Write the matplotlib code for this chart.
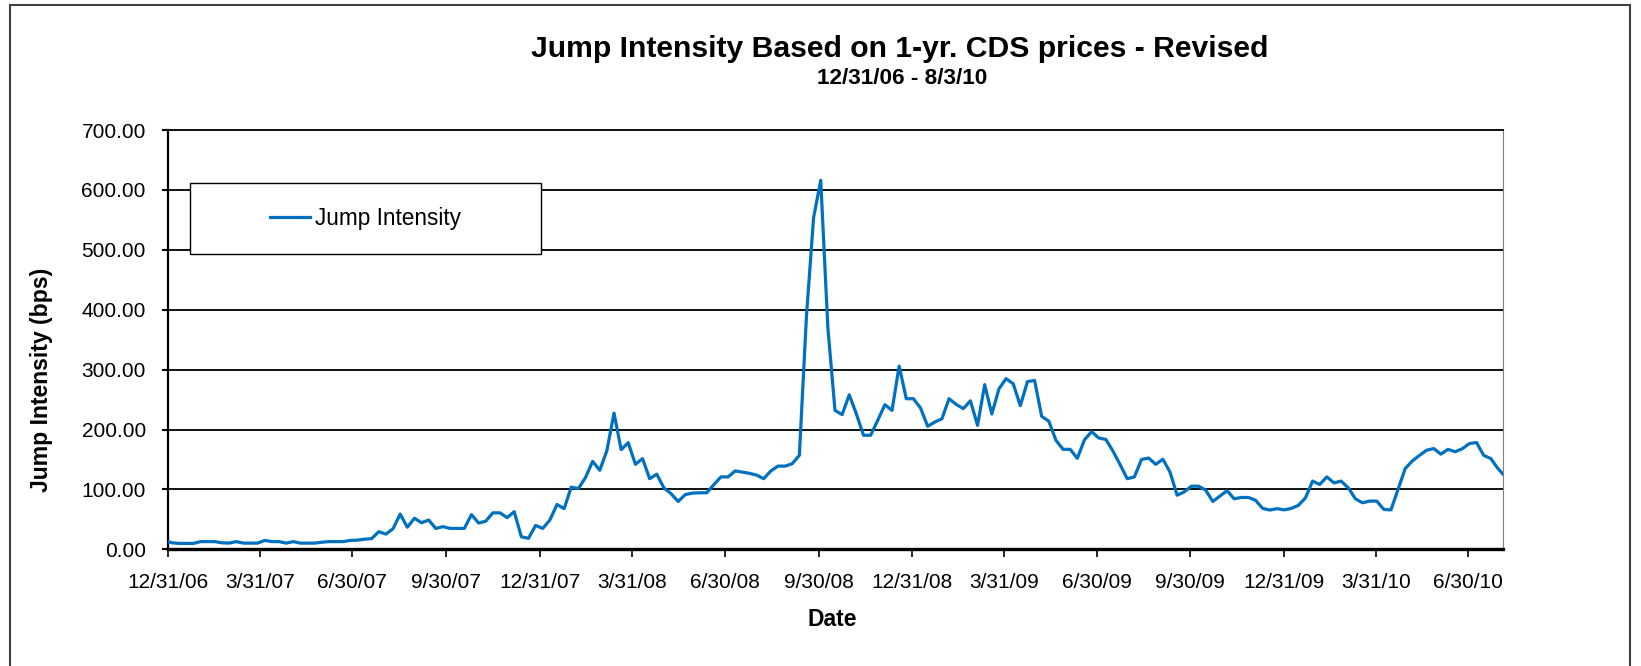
import matplotlib
matplotlib.use("Agg")
import matplotlib.pyplot as plt
from matplotlib.patches import Rectangle
from matplotlib.ticker import FormatStrFormatter
import pandas as pd

plt.rcParams["font.family"] = ["Liberation Sans", "DejaVu Sans"]

# series runs from the year-end close, then weekly Thursday fixes, then the last close
first_date = "2006-12-31"
weekly_start = "2007-01-04"
weekly_end = "2010-07-29"
last_date = "2010-08-03"

jump_intensity = [
    13,
    11, 10, 10, 10, 13, 13, 13, 11, 10.5, 13,
    10.5, 10.5, 10.5, 15, 13, 13, 10.5, 13, 10.5, 10.5,
    10.5, 12, 13, 13, 13, 15, 15.5, 17, 18, 29.5,
    25.5, 34.5, 59, 37, 52, 44.5, 49, 35, 38, 35,
    35, 35, 58, 44, 47, 61, 61, 53, 63, 21,
    18.5, 40, 35, 49, 75, 68, 104, 101.5, 120, 147,
    132, 165, 227.5, 166.5, 178, 142, 151.5, 118, 125.5, 102.5,
    93, 80, 91.5, 94, 94.5, 94.5, 108, 121, 121, 131,
    129, 127, 124, 118, 131, 139, 139, 143, 157, 390,
    554, 616, 370, 232, 225, 258, 226, 190.5, 190.5, 215.5,
    241.5, 232, 306, 251.5, 251.5, 236, 205.5, 212.5, 218, 251.5,
    242, 235, 248, 207, 275, 226, 268, 285, 276.5, 240,
    280, 282, 222, 214, 182, 167, 167, 152, 183, 196.5,
    186, 183.5, 164, 141.5, 118, 121, 150, 152.5, 142, 150.5,
    129, 90.5, 96, 105.5, 105.5, 99, 80, 89, 98, 84.5,
    86.7, 86.7, 82, 68.4, 65.7, 68, 66, 68.4, 73.4, 86,
    114, 108.4, 121, 111, 114, 103, 84.5, 77.8, 80.6, 80.6,
    66.7, 66, 100.5, 135, 147.6, 157, 165.5, 168.3, 159, 167,
    163, 168, 176.6, 178.4, 157, 151.6, 135,
    125.6,
]

tick_dates = [
    "2006-12-31", "2007-03-31", "2007-06-30", "2007-09-30", "2007-12-31",
    "2008-03-31", "2008-06-30", "2008-09-30", "2008-12-31", "2009-03-31",
    "2009-06-30", "2009-09-30", "2009-12-31", "2010-03-31", "2010-06-30",
]
tick_labels = [
    "12/31/06", "3/31/07", "6/30/07", "9/30/07", "12/31/07",
    "3/31/08", "6/30/08", "9/30/08", "12/31/08", "3/31/09",
    "6/30/09", "9/30/09", "12/31/09", "3/31/10", "6/30/10",
]
y_ticks = [0, 100, 200, 300, 400, 500, 600, 700]

dates = (
    pd.DatetimeIndex([first_date])
    .append(pd.date_range(weekly_start, weekly_end, freq="7D"))
    .append(pd.DatetimeIndex([last_date]))
)

W, H = 1641, 666
fig = plt.figure(figsize=(W / 100, H / 100), dpi=100)
fig.patch.set_facecolor("white")

# plot area in pixels: x 168..1503, y 130..549
ax = fig.add_axes([168 / W, 1 - 549.4 / H, (1503 - 168) / W, (549.4 - 130) / H])

ax.plot(dates, jump_intensity, color="#0070C0", lw=2.3, label="Jump Intensity", zorder=5)

ax.set_xlim(pd.Timestamp(first_date), pd.Timestamp(last_date))
ax.set_ylim(0, 700)
ax.set_yticks(y_ticks)
ax.yaxis.set_major_formatter(FormatStrFormatter("%.2f"))
ax.set_xticks(pd.to_datetime(tick_dates))
ax.set_xticklabels(tick_labels)

ax.yaxis.grid(True, color="#111111", lw=1.4)
ax.set_axisbelow(True)

for side in ["left", "bottom"]:
    ax.spines[side].set_color("black")
ax.spines["left"].set_linewidth(1.6)
ax.spines["bottom"].set_linewidth(2.4)
ax.spines["top"].set_color("#111111")
ax.spines["top"].set_linewidth(1.4)
ax.spines["right"].set_color("#808080")
ax.spines["right"].set_linewidth(0.8)

ax.tick_params(axis="y", direction="out", length=4, width=1.5, pad=12, labelsize=15)
ax.tick_params(axis="x", direction="out", length=6, width=1.2, pad=11, labelsize=15)

# legend box with white fill sitting over the gridlines
box_x, box_y, box_w, box_h = 0.0165, 0.7043, 0.263, 0.1693
ax.add_patch(Rectangle((box_x, box_y), box_w, box_h, transform=ax.transAxes,
                       facecolor="white", edgecolor="black", lw=1.0, zorder=6))
leg = ax.legend(loc="center", bbox_to_anchor=(box_x + box_w / 2, box_y + box_h / 2),
                frameon=False, fontsize=16.3, handlelength=1.75, handletextpad=0.25)
leg.set_zorder(7)

fig.text(900 / W, 1 - 49 / H, "Jump Intensity Based on 1-yr. CDS prices - Revised",
         ha="center", va="center", fontsize=21.7, fontweight="bold")
fig.text(902 / W, 1 - 78.5 / H, "12/31/06 - 8/3/10",
         ha="center", va="center", fontsize=16.2, fontweight="bold")
fig.text(42 / W, 1 - 380 / H, "Jump Intensity (bps)", rotation=90,
         ha="center", va="center", fontsize=16.6, fontweight="bold")
fig.text(832 / W, 1 - 620 / H, "Date", ha="center", va="center",
         fontsize=16.5, fontweight="bold")

# chart area border
fig.add_artist(Rectangle((10 / W, -0.05), 1620 / W, 1.05 - 5 / H,
                         transform=fig.transFigure, fill=False,
                         edgecolor="#404040", lw=1.5))

fig.savefig("out.png", dpi=100)
